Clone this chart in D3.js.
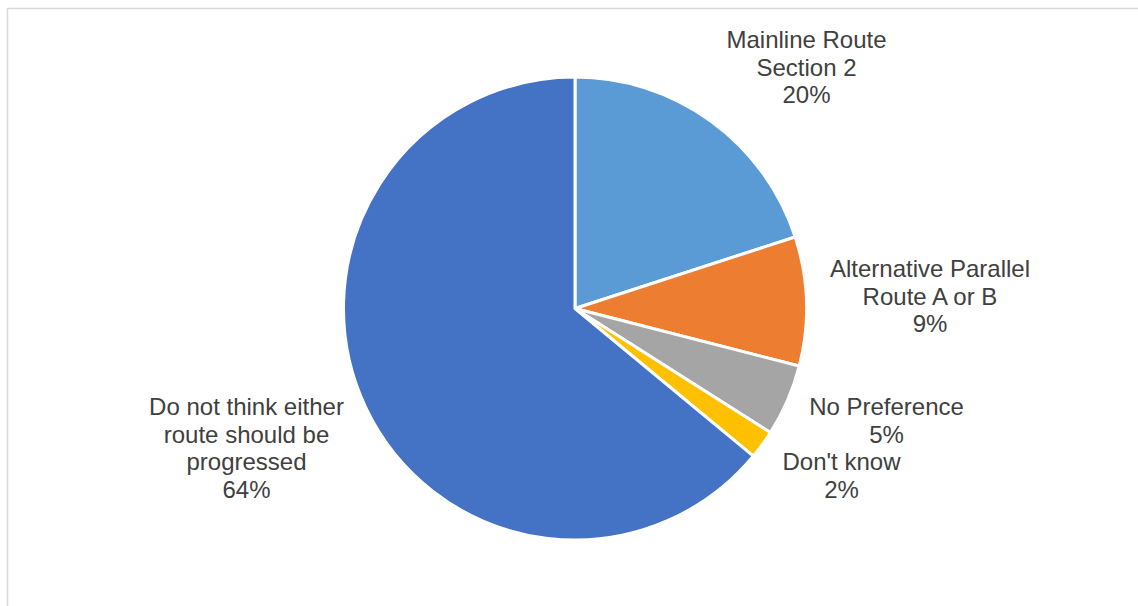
<!DOCTYPE html>
<html>
<head>
<meta charset="utf-8">
<script src="https://cdn.jsdelivr.net/npm/d3@7"></script>
<style>
  html, body { margin: 0; padding: 0; background: #fff; }
  svg { display: block; }
</style>
</head>
<body>
<script>
// Survey responses: preferred route option
const categories = [
  "Mainline Route Section 2",
  "Alternative Parallel Route A or B",
  "No Preference",
  "Don't know",
  "Do not think either route should be progressed"
];
const values = [20, 9, 5, 2, 64];
const labelLines = [
  ["Mainline Route", "Section 2"],
  ["Alternative Parallel", "Route A or B"],
  ["No Preference"],
  ["Don't know"],
  ["Do not think either", "route should be", "progressed"]
];
const colors = ["#5B9BD5", "#ED7D31", "#A5A5A5", "#FFC000", "#4472C4"];

const W = 1138, H = 606;
const cx = 575, cy = 308.5, R = 231.5;

const svg = d3.select("body").append("svg")
  .attr("width", W).attr("height", H);

// chart area frame
svg.append("rect")
  .attr("x", 7.5).attr("y", 8.5)
  .attr("width", W + 20).attr("height", H + 20)
  .attr("fill", "#fff")
  .attr("stroke", "#d9d9d9").attr("stroke-width", 1.5);

const pie = d3.pie().sort(null).value(d => d.value);
const arcs = pie(values.map((v, i) => ({ value: v, i })));
const arc = d3.arc().innerRadius(0).outerRadius(R);

const color = d3.scaleOrdinal().domain(d3.range(values.length)).range(colors);

const g = svg.append("g").attr("transform", `translate(${cx},${cy})`);
g.selectAll("path")
  .data(arcs)
  .join("path")
  .attr("d", arc)
  .attr("fill", d => color(d.data.i))
  .attr("stroke", "#fff")
  .attr("stroke-width", 3)
  .attr("stroke-linejoin", "round");

// label anchors: horizontal centre and first-line baseline
const labelPos = [
  [806.5, 48],
  [930, 277],
  [886.5, 415],
  [841.5, 470],
  [246.5, 415]
];
const lineH = 27.7;
const fmt = d3.format(".0f");

labelPos.forEach((p, i) => {
  const lines = labelLines[i].concat([fmt(values[i]) + "%"]);
  const t = svg.append("text")
    .attr("text-anchor", "middle")
    .attr("font-family", "'Liberation Sans', Arial, sans-serif")
    .attr("font-size", 24)
    .attr("fill", "#404040");
  lines.forEach((s, k) => {
    t.append("tspan")
      .attr("x", p[0])
      .attr("y", p[1] + k * lineH)
      .text(s);
  });
});
</script>
</body>
</html>
